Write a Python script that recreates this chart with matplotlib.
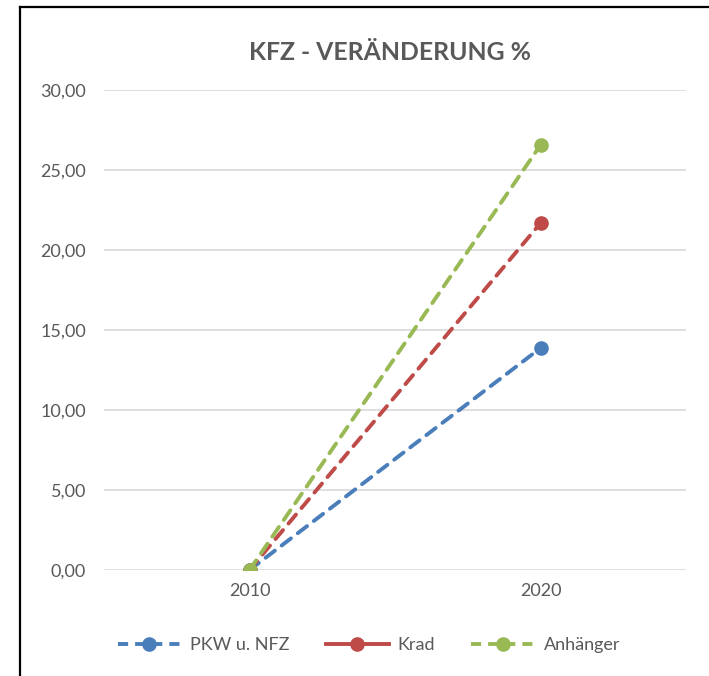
import matplotlib
matplotlib.use("Agg")
import matplotlib.pyplot as plt
from matplotlib.lines import Line2D
from matplotlib.ticker import FuncFormatter, MultipleLocator

plt.rcParams['font.family'] = ['Lato', 'DejaVu Sans']

years = ["2010", "2020"]
series_names = ["PKW u. NFZ", "Krad", "Anhänger"]
pkw = [0.0, 13.87]
krad = [0.0, 21.68]
anhaenger = [0.0, 26.56]
colors = ["#4a7ebb", "#be4b48", "#98b954"]

fig = plt.figure(figsize=(7.09, 6.76), dpi=100)
ax = fig.add_axes([104/709, 106/676, 582/709, 480/676])

x = list(range(len(years)))
for vals, c in [(pkw, colors[0]), (krad, colors[1]), (anhaenger, colors[2])]:
    ax.plot(x, vals, color=c, linewidth=2.8, linestyle=(0, (3, 2.2)),
            marker='o', markersize=9.5, zorder=3, dash_capstyle='round')

ax.set_xlim(-0.5, 1.5)
ax.set_ylim(0, 30)
ax.set_xticks(x)
ax.set_xticklabels(years)
ax.yaxis.set_major_locator(MultipleLocator(5))
ax.yaxis.set_major_formatter(FuncFormatter(lambda v, p: f"{v:.2f}".replace('.', ',')))
ax.grid(axis='y', color='#d9d9d9', linewidth=1.2)
ax.set_axisbelow(True)
for s in ax.spines.values():
    s.set_visible(False)
ax.tick_params(axis='both', length=0, labelsize=13, colors='#595959')
ax.tick_params(axis='y', pad=13)
ax.tick_params(axis='x', pad=9)

fig.text(390/709, 1 - 52/676, "KFZ - VERÄNDERUNG %", ha='center', va='center',
         fontsize=17.8, fontweight='bold', color='#595959')

handles = [
    Line2D([], [], color=colors[0], linewidth=2.8, linestyle=(0, (2.6, 1.8)), marker='o', markersize=9.5),
    Line2D([], [], color=colors[1], linewidth=2.8, linestyle='-', marker='o', markersize=9.5),
    Line2D([], [], color=colors[2], linewidth=2.8, linestyle=(0, (2.6, 1.8)), marker='o', markersize=9.5),
]
leg = fig.legend(handles, series_names, loc='center', bbox_to_anchor=(369/709, 1 - 645/676),
                 ncol=3, frameon=False, fontsize=13, handlelength=3.5, columnspacing=2.0,
                 handletextpad=0.5)
for t in leg.get_texts():
    t.set_color('#595959')

# frame lines (left and top) as in the screenshot
fig.add_artist(Line2D([20/709, 20/709], [0, 1 - 7/676], transform=fig.transFigure, color='black', linewidth=1.6))
fig.add_artist(Line2D([20/709, 1], [1 - 7/676, 1 - 7/676], transform=fig.transFigure, color='black', linewidth=1.6))

fig.savefig("out.png", dpi=100)
